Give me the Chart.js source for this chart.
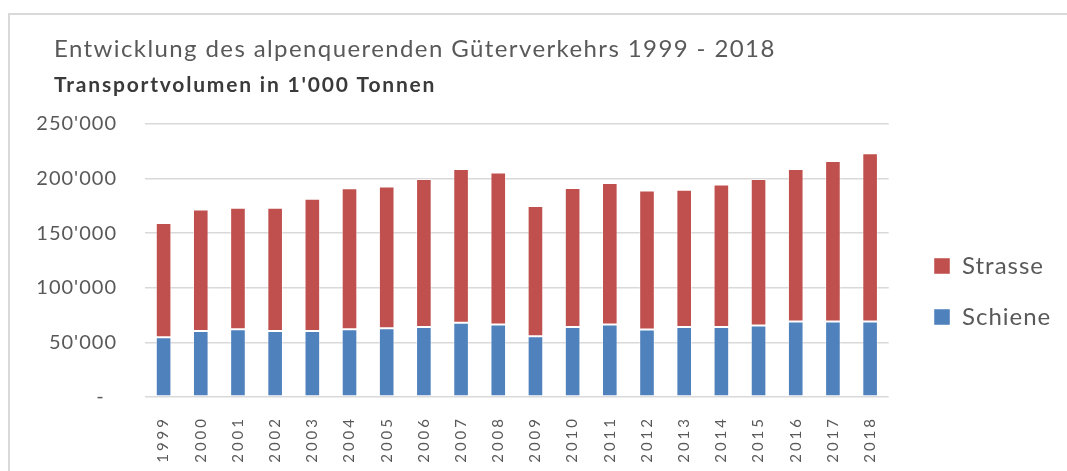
<!DOCTYPE html>
<html>
<head>
<meta charset="utf-8">
<script src="https://cdn.jsdelivr.net/npm/chart.js@4"></script>
<style>
    body { margin: 0; background: #fff; overflow: hidden; }
    #frame { position: absolute; left: 8px; top: 13px; width: 1070px; height: 470px; border-top: 2px solid #d9d9d9; border-left: 2px solid #d9d9d9; }
    #wrap { position: absolute; left: 0; top: 0; width: 1067px; height: 471px; }
</style>
</head>
<body>
<div id="frame"></div>
<div id="wrap"><canvas id="traffic-chart"></canvas></div>
<script>
// Transportvolumen in 1'000 Tonnen
var years = ['1999', '2000', '2001', '2002', '2003', '2004', '2005', '2006', '2007', '2008',
    '2009', '2010', '2011', '2012', '2013', '2014', '2015', '2016', '2017', '2018'];
var schiene = [54700, 60500, 62000, 60500, 60500, 62000, 62900, 64200, 67900, 66300,
    55600, 64200, 66300, 61700, 64200, 64200, 65400, 69100, 69100, 69100];
var strasse = [104600, 111100, 111400, 112900, 121100, 129100, 129800, 135400, 140900, 139200,
    119300, 127200, 129700, 127300, 125700, 130300, 134200, 139700, 147000, 154100];
var yTicks = { min: 0, max: 250000, step: 50000 };

var titleText = 'Entwicklung des alpenquerenden Güterverkehrs 1999 - 2018';
var subtitleText = "Transportvolumen in 1'000 Tonnen";

var textGray = '#595959';
Chart.defaults.font.family = 'Lato';
Chart.defaults.color = textGray;

function formatTonnes(v) {
    if (v === 0) return '-  ';
    return String(v).replace(/\B(?=(\d{3})+(?!\d))/g, "'");
}

// Excel draws its text rather loose, so widen the canvas letter spacing per box
function spaceOut(obj, method, px) {
    if (obj['_spaced_' + method]) return;
    var orig = obj[method];
    obj[method] = function () {
        this.ctx.save();
        this.ctx.letterSpacing = px + 'px';
        orig.apply(this, arguments);
        this.ctx.restore();
    };
    obj['_spaced_' + method] = true;
}

var textSpacing = {
    id: 'textSpacing',
    afterLayout: function (chart) {
        spaceOut(chart.scales.x, 'drawLabels', 3);
        spaceOut(chart.scales.y, 'drawLabels', 1);
        spaceOut(chart.legend, 'draw', 1);
        chart.boxes.forEach(function (box) {
            if (!box.options || typeof box.options.text !== 'string') return;
            // titles start a bit right of the y labels
            box.left += 17; box.right += 17;
            if (box.options.text === titleText) spaceOut(box, 'draw', 1.4);
            if (box.options.text === subtitleText) spaceOut(box, 'draw', 1.8);
        });
    }
};

// put the legend where Excel had it
var legendPlace = {
    id: 'legendPlace',
    afterLayout: function (chart) {
        var lg = chart.legend;
        var pad = lg.options.labels.padding;
        var dx = (934 - pad) - lg.left;
        var dy = (266 - 12 - pad) - lg.top;
        lg.left += dx; lg.right += dx;
        lg.top += dy; lg.bottom += dy;
    }
};

var ctx = document.getElementById('traffic-chart').getContext('2d');
var trafficChart = new Chart(ctx, {
    type: 'bar',
    data: {
        labels: years,
        datasets: [
            {
                label: 'Schiene',
                data: schiene,
                backgroundColor: '#4F81BD',
                borderColor: 'rgba(255,255,255,0.45)',
                borderWidth: 1,
                borderSkipped: false
            },
            {
                label: 'Strasse',
                data: strasse,
                backgroundColor: '#C0504D',
                borderColor: 'rgba(255,255,255,0.45)',
                borderWidth: 1,
                borderSkipped: false
            }
        ]
    },
    options: {
        responsive: true,
        maintainAspectRatio: false,
        animation: false,
        layout: { padding: { top: 20, left: 37, right: 31, bottom: 0 } },
        datasets: { bar: { barPercentage: 0.42, categoryPercentage: 1 } },
        plugins: {
            title: {
                display: true,
                text: titleText,
                align: 'start',
                color: textGray,
                font: { size: 24, weight: 'normal' },
                padding: { top: 15, bottom: 0 }
            },
            subtitle: {
                display: true,
                text: subtitleText,
                align: 'start',
                color: '#3a3a3a',
                font: { size: 21, weight: 'bold' },
                padding: { top: 9, bottom: 26 }
            },
            legend: {
                position: 'right',
                align: 'start',
                reverse: true,
                labels: {
                    boxWidth: 16,
                    boxHeight: 16,
                    padding: 27,
                    color: textGray,
                    font: { size: 24 }
                }
            },
            tooltip: { enabled: false }
        },
        scales: {
            x: {
                stacked: true,
                grid: { display: false, drawTicks: false },
                border: { display: false },
                ticks: {
                    minRotation: 90,
                    maxRotation: 90,
                    padding: 19,
                    color: textGray,
                    font: { size: 15 }
                },
                afterFit: function (scale) { scale.height = 74; }
            },
            y: {
                stacked: true,
                min: yTicks.min,
                max: yTicks.max,
                grid: { color: '#d9d9d9', lineWidth: 1.5, drawTicks: false },
                border: { display: false },
                ticks: {
                    stepSize: yTicks.step,
                    padding: 28,
                    color: textGray,
                    font: { size: 20 },
                    callback: function (value) { return formatTonnes(value); }
                },
                afterFit: function (scale) { scale.width = 108; }
            }
        }
    },
    plugins: [textSpacing, legendPlace]
});
</script>
</body>
</html>
